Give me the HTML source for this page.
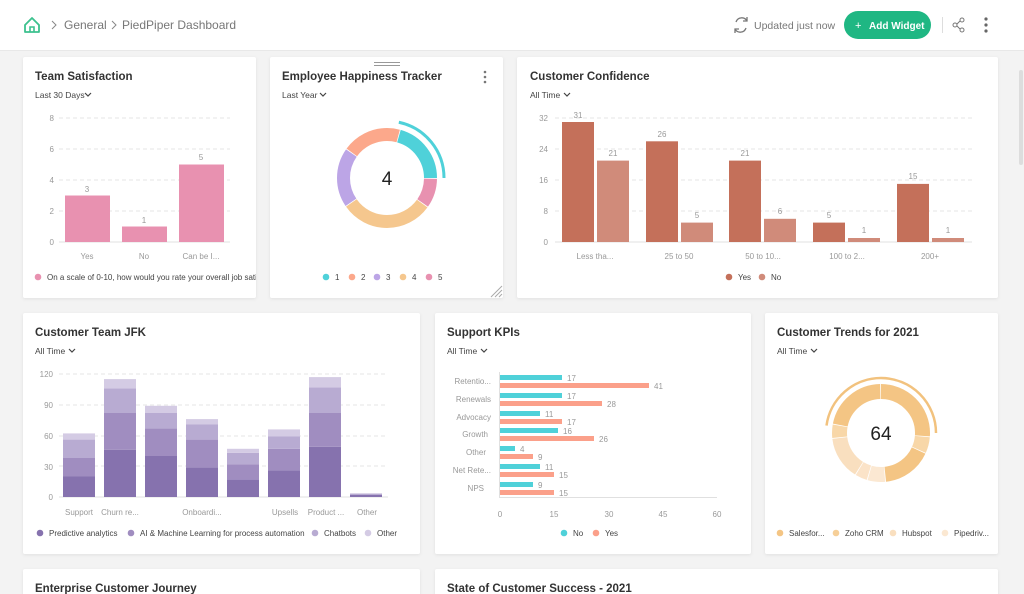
<!DOCTYPE html>
<html><head><meta charset="utf-8"><style>
html,body{margin:0;padding:0;background:#f3f3f3;}
svg{display:block;font-family:"Liberation Sans",sans-serif;}
.t{font-size:11.5px;font-weight:bold;fill:#333;}
.dd{font-size:8.5px;fill:#444;}
.ax{font-size:8px;fill:#999;}
.lg{font-size:8px;fill:#444;}
.g{stroke:#e4e4e4;stroke-dasharray:4 3;stroke-width:1;}
</style></head><body>
<svg width="1024" height="594" viewBox="0 0 1024 594">
<defs><filter id="sh" x="-5%" y="-5%" width="110%" height="110%"><feDropShadow dx="0" dy="1" stdDeviation="1.5" flood-color="#000" flood-opacity="0.08"/></filter>
<clipPath id="c1"><rect x="23" y="57" width="233" height="241"/></clipPath></defs>
<rect width="1024" height="594" fill="#f3f3f3"/>
<!-- header -->
<rect width="1024" height="50" fill="#fff"/>
<line x1="0" y1="50.5" x2="1024" y2="50.5" stroke="#e8e8e8"/>
<path d="M25 25 L32 18 L39 25 V32 H25 Z" fill="none" stroke="#3cc18e" stroke-width="1.8" stroke-linejoin="round"/>
<path d="M30 32 V27 H34 V32" fill="none" stroke="#3cc18e" stroke-width="1.6"/>
<path d="M52 21 L56 25 L52 29" fill="none" stroke="#888" stroke-width="1"/>
<text x="64" y="29" font-size="12" fill="#777">General</text>
<path d="M112 21 L116 25 L112 29" fill="none" stroke="#888" stroke-width="1"/>
<text x="122" y="29" font-size="12" fill="#777">PiedPiper Dashboard</text>
<path d="M736 22 A6 6 0 0 1 747 21 M747 17 V21 H743 M746 28 A6 6 0 0 1 735 29 M735 33 V29 H739" fill="none" stroke="#777" stroke-width="1.3"/>
<text x="754" y="29" font-size="10.5" fill="#777">Updated just now</text>
<rect x="844" y="11" width="87" height="28" rx="14" fill="#1fb783"/>
<text x="855" y="29" font-size="11" fill="#fff">+</text>
<text x="869" y="29" font-size="10" font-weight="bold" fill="#fff">Add Widget</text>
<line x1="942.5" y1="17" x2="942.5" y2="33" stroke="#ddd"/>
<g stroke="#777" stroke-width="1" fill="none"><circle cx="955" cy="25" r="2"/><circle cx="962" cy="20" r="2"/><circle cx="962" cy="30" r="2"/><path d="M957 24 L960 21 M957 26 L960 29"/></g>
<g fill="#666"><circle cx="986" cy="19" r="1.6"/><circle cx="986" cy="25" r="1.6"/><circle cx="986" cy="31" r="1.6"/></g>
<rect x="1019" y="70" width="4" height="95" rx="2" fill="#ddd"/>

<!-- cards -->
<g fill="#fff" filter="url(#sh)">
<rect x="23" y="57" width="233" height="241" rx="2"/>
<rect x="270" y="57" width="233" height="241" rx="2"/>
<rect x="517" y="57" width="481" height="241" rx="2"/>
<rect x="23" y="313" width="397" height="241" rx="2"/>
<rect x="435" y="313" width="316" height="241" rx="2"/>
<rect x="765" y="313" width="233" height="241" rx="2"/>
<rect x="23" y="569" width="397" height="40" rx="2"/>
<rect x="435" y="569" width="563" height="40" rx="2"/>
</g>

<!-- Card 1 -->
<text class="t" x="35" y="80">Team Satisfaction</text>
<text class="dd" x="35" y="98">Last 30 Days</text><path d="M85 93 L88 96 L91 93" fill="none" stroke="#444" stroke-width="1.2"/>
<g class="ax" text-anchor="end"><text x="54" y="121">8</text><text x="54" y="152">6</text><text x="54" y="183">4</text><text x="54" y="214">2</text><text x="54" y="245">0</text></g>
<g class="g"><line x1="59" y1="118" x2="230" y2="118"/><line x1="59" y1="149" x2="230" y2="149"/><line x1="59" y1="180" x2="230" y2="180"/><line x1="59" y1="211" x2="230" y2="211"/></g>
<line x1="59" y1="242" x2="230" y2="242" stroke="#e0e0e0"/>
<g fill="#e891b0"><rect x="65" y="195.5" width="45" height="46.5"/><rect x="122" y="226.5" width="45" height="15.5"/><rect x="179" y="164.5" width="45" height="77.5"/></g>
<g class="ax" text-anchor="middle"><text x="87" y="192">3</text><text x="144" y="223">1</text><text x="201" y="160">5</text>
<text x="87" y="259">Yes</text><text x="144" y="259">No</text><text x="201" y="259">Can be I...</text></g>
<g clip-path="url(#c1)"><circle cx="38" cy="277" r="3.3" fill="#e891b0"/><text class="lg" x="47" y="280">On a scale of 0-10, how would you rate your overall job sati</text></g>

<!-- Card 2 -->
<g fill="#999"><rect x="374" y="62" width="26" height="1"/><rect x="374" y="65" width="26" height="1"/></g>
<text class="t" x="282" y="80">Employee Happiness Tracker</text>
<g fill="#777"><circle cx="485" cy="72" r="1.3"/><circle cx="485" cy="77" r="1.3"/><circle cx="485" cy="82" r="1.3"/></g>
<text class="dd" x="282" y="98">Last Year</text><path d="M320 93 L323 96 L326 93" fill="none" stroke="#444" stroke-width="1.2"/>
<g transform="rotate(-90 387 178)" fill="none" stroke-width="13">
<circle cx="387" cy="178" r="43.5" pathLength="360" stroke="#4fd1d9" stroke-dasharray="74 286" stroke-dashoffset="-16"/>
<circle cx="387" cy="178" r="43.5" pathLength="360" stroke="#e891b0" stroke-dasharray="34 326" stroke-dashoffset="-91"/>
<circle cx="387" cy="178" r="43.5" pathLength="360" stroke="#f5c78e" stroke-dasharray="109 251" stroke-dashoffset="-126"/>
<circle cx="387" cy="178" r="43.5" pathLength="360" stroke="#bca5e6" stroke-dasharray="69 291" stroke-dashoffset="-236"/>
<circle cx="387" cy="178" r="43.5" pathLength="360" stroke="#fca88b" stroke-dasharray="69 291" stroke-dashoffset="-306"/>
<circle cx="387" cy="178" r="57" pathLength="360" stroke="#4fd1d9" stroke-width="3" stroke-dasharray="78 282" stroke-dashoffset="-12"/>
</g>
<text x="387" y="185" font-size="19" text-anchor="middle" fill="#222">4</text>
<g class="lg"><circle cx="326" cy="277" r="3.3" fill="#4fd1d9"/><text x="335" y="280">1</text>
<circle cx="352" cy="277" r="3.3" fill="#fca88b"/><text x="361" y="280">2</text>
<circle cx="377" cy="277" r="3.3" fill="#bca5e6"/><text x="386" y="280">3</text>
<circle cx="403" cy="277" r="3.3" fill="#f5c78e"/><text x="412" y="280">4</text>
<circle cx="429" cy="277" r="3.3" fill="#e891b0"/><text x="438" y="280">5</text></g>
<path d="M491 297 L502 286 M495 297 L502 290 M499 297 L502 294" stroke="#aaa"/>

<!-- Card 3 -->
<text class="t" x="530" y="80">Customer Confidence</text>
<text class="dd" x="530" y="98">All Time</text><path d="M564 93 L567 96 L570 93" fill="none" stroke="#444" stroke-width="1.2"/>
<g class="ax" text-anchor="end"><text x="548" y="121">32</text><text x="548" y="152">24</text><text x="548" y="183">16</text><text x="548" y="214">8</text><text x="548" y="245">0</text></g>
<g class="g"><line x1="555" y1="118" x2="972" y2="118"/><line x1="555" y1="149" x2="972" y2="149"/><line x1="555" y1="180" x2="972" y2="180"/><line x1="555" y1="211" x2="972" y2="211"/></g>
<line x1="555" y1="242" x2="972" y2="242" stroke="#e0e0e0"/>
<g fill="#c4705a"><rect x="562" y="122" width="32" height="120"/><rect x="646" y="141.3" width="32" height="100.7"/><rect x="729" y="160.6" width="32" height="81.4"/><rect x="813" y="222.6" width="32" height="19.4"/><rect x="897" y="183.9" width="32" height="58.1"/></g>
<g fill="#d08b7a"><rect x="597" y="160.6" width="32" height="81.4"/><rect x="681" y="222.6" width="32" height="19.4"/><rect x="764" y="218.8" width="32" height="23.2"/><rect x="848" y="238" width="32" height="4"/><rect x="932" y="238" width="32" height="4"/></g>
<g class="ax" text-anchor="middle"><text x="578" y="118">31</text><text x="613" y="156">21</text><text x="662" y="137">26</text><text x="697" y="218">5</text><text x="745" y="156">21</text><text x="780" y="214">6</text><text x="829" y="218">5</text><text x="864" y="233">1</text><text x="913" y="179">15</text><text x="948" y="233">1</text>
<text x="595" y="259">Less tha...</text><text x="679" y="259">25 to 50</text><text x="763" y="259">50 to 10...</text><text x="847" y="259">100 to 2...</text><text x="930" y="259">200+</text></g>
<g class="lg"><circle cx="729" cy="277" r="3.3" fill="#c4705a"/><text x="738" y="280">Yes</text><circle cx="762" cy="277" r="3.3" fill="#d08b7a"/><text x="771" y="280">No</text></g>

<!-- Card 4 -->
<text class="t" x="35" y="336">Customer Team JFK</text>
<text class="dd" x="35" y="354">All Time</text><path d="M69 349 L72 352 L75 349" fill="none" stroke="#444" stroke-width="1.2"/>
<g class="ax" text-anchor="end"><text x="53" y="377">120</text><text x="53" y="408">90</text><text x="53" y="439">60</text><text x="53" y="470">30</text><text x="53" y="500">0</text></g>
<g class="g"><line x1="59" y1="374" x2="388" y2="374"/><line x1="59" y1="405" x2="388" y2="405"/><line x1="59" y1="436" x2="388" y2="436"/><line x1="59" y1="466" x2="388" y2="466"/></g>
<line x1="59" y1="497" x2="388" y2="497" stroke="#e0e0e0"/>
<g>
<rect x="63" y="476.5" width="32" height="20.5" fill="#8672ae"/><rect x="63" y="458" width="32" height="18.5" fill="#a08dc0"/><rect x="63" y="439.6" width="32" height="18.4" fill="#b8abd2"/><rect x="63" y="433.4" width="32" height="6.2" fill="#d4cbe4"/>
<rect x="104" y="449.9" width="32" height="47.1" fill="#8672ae"/><rect x="104" y="413" width="32" height="36.9" fill="#a08dc0"/><rect x="104" y="388.4" width="32" height="24.6" fill="#b8abd2"/><rect x="104" y="379.1" width="32" height="9.3" fill="#d4cbe4"/>
<rect x="145" y="456" width="32" height="41" fill="#8672ae"/><rect x="145" y="428.3" width="32" height="27.7" fill="#a08dc0"/><rect x="145" y="413" width="32" height="15.3" fill="#b8abd2"/><rect x="145" y="405.8" width="32" height="7.2" fill="#d4cbe4"/>
<rect x="186" y="467.3" width="32" height="29.7" fill="#8672ae"/><rect x="186" y="439.6" width="32" height="27.7" fill="#a08dc0"/><rect x="186" y="424.2" width="32" height="15.4" fill="#b8abd2"/><rect x="186" y="419.1" width="32" height="5.1" fill="#d4cbe4"/>
<rect x="227" y="479.6" width="32" height="17.4" fill="#8672ae"/><rect x="227" y="464.2" width="32" height="15.4" fill="#a08dc0"/><rect x="227" y="452.9" width="32" height="11.3" fill="#b8abd2"/><rect x="227" y="448.8" width="32" height="4.1" fill="#d4cbe4"/>
<rect x="268" y="470.4" width="32" height="26.6" fill="#8672ae"/><rect x="268" y="448.8" width="32" height="21.6" fill="#a08dc0"/><rect x="268" y="436.5" width="32" height="12.3" fill="#b8abd2"/><rect x="268" y="429.4" width="32" height="7.1" fill="#d4cbe4"/>
<rect x="309" y="446.8" width="32" height="50.2" fill="#8672ae"/><rect x="309" y="413" width="32" height="33.8" fill="#a08dc0"/><rect x="309" y="387.3" width="32" height="25.7" fill="#b8abd2"/><rect x="309" y="377.1" width="32" height="10.2" fill="#d4cbe4"/>
<rect x="350" y="495" width="32" height="2" fill="#8672ae"/><rect x="350" y="493.5" width="32" height="1.5" fill="#b8abd2"/>
</g>
<g class="ax" text-anchor="middle"><text x="79" y="515">Support</text><text x="120" y="515">Churn re...</text><text x="202" y="515">Onboardi...</text><text x="285" y="515">Upsells</text><text x="326" y="515">Product ...</text><text x="367" y="515">Other</text></g>
<g class="lg"><circle cx="40" cy="533" r="3.3" fill="#8672ae"/><text x="49" y="536">Predictive analytics</text>
<circle cx="131" cy="533" r="3.3" fill="#a08dc0"/><text x="140" y="536">AI &amp; Machine Learning for process automation</text>
<circle cx="315" cy="533" r="3.3" fill="#b8abd2"/><text x="324" y="536">Chatbots</text>
<circle cx="368" cy="533" r="3.3" fill="#d4cbe4"/><text x="377" y="536">Other</text></g>

<!-- Card 5 -->
<text class="t" x="447" y="336">Support KPIs</text>
<text class="dd" x="447" y="354">All Time</text><path d="M481 349 L484 352 L487 349" fill="none" stroke="#444" stroke-width="1.2"/>
<line x1="499.5" y1="372" x2="499.5" y2="497" stroke="#e0e0e0"/>
<line x1="499" y1="497.5" x2="717" y2="497.5" stroke="#e0e0e0"/>
<g class="ax" text-anchor="end"><text x="491" y="384">Retentio...</text><text x="491" y="402">Renewals</text><text x="491" y="420">Advocacy</text><text x="488" y="437">Growth</text><text x="486" y="455">Other</text><text x="491" y="473">Net Rete...</text><text x="484" y="491">NPS</text></g>
<g fill="#4fd1d9"><rect x="500" y="375" width="62" height="5"/><rect x="500" y="393" width="62" height="5"/><rect x="500" y="411" width="40" height="5"/><rect x="500" y="428" width="58" height="5"/><rect x="500" y="446" width="15" height="5"/><rect x="500" y="464" width="40" height="5"/><rect x="500" y="482" width="33" height="5"/></g>
<g fill="#fba08a"><rect x="500" y="383" width="149" height="5"/><rect x="500" y="401" width="102" height="5"/><rect x="500" y="419" width="62" height="5"/><rect x="500" y="436" width="94" height="5"/><rect x="500" y="454" width="33" height="5"/><rect x="500" y="472" width="54" height="5"/><rect x="500" y="490" width="54" height="5"/></g>
<g class="ax"><text x="567" y="381">17</text><text x="654" y="389">41</text><text x="567" y="399">17</text><text x="607" y="407">28</text><text x="545" y="417">11</text><text x="567" y="425">17</text><text x="563" y="434">16</text><text x="599" y="442">26</text><text x="520" y="452">4</text><text x="538" y="460">9</text><text x="545" y="470">11</text><text x="559" y="478">15</text><text x="538" y="488">9</text><text x="559" y="496">15</text></g>
<g class="ax" text-anchor="middle"><text x="500" y="517">0</text><text x="554" y="517">15</text><text x="609" y="517">30</text><text x="663" y="517">45</text><text x="717" y="517">60</text></g>
<g class="lg"><circle cx="564" cy="533" r="3.3" fill="#4fd1d9"/><text x="573" y="536">No</text><circle cx="596" cy="533" r="3.3" fill="#fba08a"/><text x="605" y="536">Yes</text></g>

<!-- Card 6 -->
<text class="t" x="777" y="336">Customer Trends for 2021</text>
<text class="dd" x="777" y="354">All Time</text><path d="M811 349 L814 352 L817 349" fill="none" stroke="#444" stroke-width="1.2"/>
<g transform="rotate(-90 881 433)" fill="none" stroke-width="15">
<circle cx="881" cy="433" r="41.5" pathLength="360" stroke="#f4c584" stroke-dasharray="94 266" stroke-dashoffset="0"/>
<circle cx="881" cy="433" r="41.5" pathLength="360" stroke="#f8d7a8" stroke-dasharray="19 341" stroke-dashoffset="-95"/>
<circle cx="881" cy="433" r="41.5" pathLength="360" stroke="#f4c584" stroke-dasharray="59 301" stroke-dashoffset="-115"/>
<circle cx="881" cy="433" r="41.5" pathLength="360" stroke="#fbe8d2" stroke-dasharray="21 339" stroke-dashoffset="-175"/>
<circle cx="881" cy="433" r="41.5" pathLength="360" stroke="#fbe3c8" stroke-dasharray="14 346" stroke-dashoffset="-197"/>
<circle cx="881" cy="433" r="41.5" pathLength="360" stroke="#f9dfbf" stroke-dasharray="51 309" stroke-dashoffset="-212"/>
<circle cx="881" cy="433" r="41.5" pathLength="360" stroke="#f8d7a8" stroke-dasharray="16 344" stroke-dashoffset="-264"/>
<circle cx="881" cy="433" r="41.5" pathLength="360" stroke="#f4c584" stroke-dasharray="78 282" stroke-dashoffset="-281"/>
<circle cx="881" cy="433" r="55" pathLength="360" stroke="#f2c27e" stroke-width="2.5" stroke-dasharray="172 188" stroke-dashoffset="-278"/>
</g>
<text x="881" y="440" font-size="19" text-anchor="middle" fill="#222">64</text>
<g class="lg"><circle cx="780" cy="533" r="3.3" fill="#f4c584"/><text x="789" y="536">Salesfor...</text>
<circle cx="836" cy="533" r="3.3" fill="#f6cf98"/><text x="845" y="536">Zoho CRM</text>
<circle cx="893" cy="533" r="3.3" fill="#f9dfbf"/><text x="902" y="536">Hubspot</text>
<circle cx="945" cy="533" r="3.3" fill="#fbe8d2"/><text x="954" y="536">Pipedriv...</text></g>

<!-- Row 3 -->
<text class="t" x="35" y="592">Enterprise Customer Journey</text>
<text class="t" x="447" y="592">State of Customer Success - 2021</text>
</svg>
</body></html>
